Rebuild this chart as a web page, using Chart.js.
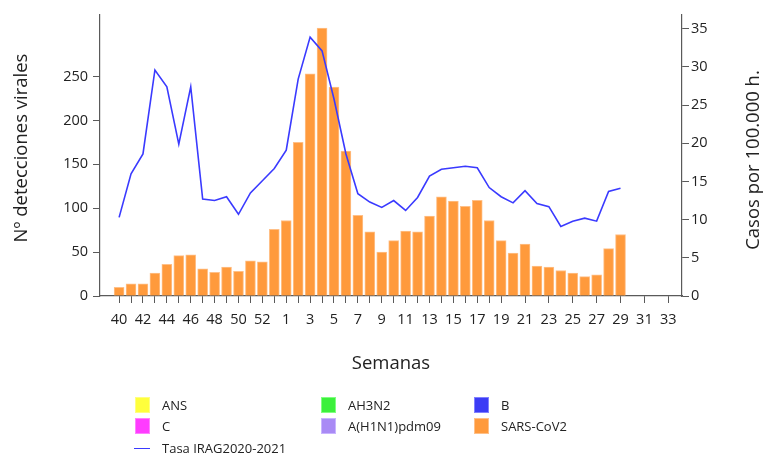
<!DOCTYPE html>
<html>
<head>
<meta charset="utf-8">
<script src="https://cdn.jsdelivr.net/npm/chart.js@4/dist/chart.umd.min.js"></script>
<style>
  html, body { margin: 0; padding: 0; background: #ffffff; }
  #wrap { position: relative; width: 766px; height: 455px; overflow: hidden; font-family: "Open Sans", sans-serif; }
  #c { position: absolute; left: 0; top: 0; }
  .lg { position: absolute; font-size: 13px; color: #222; line-height: 16px; white-space: nowrap; }
  .bx { position: absolute; width: 15px; height: 16px; box-sizing: border-box; }
  .ln { position: absolute; width: 16px; height: 0; border-top: 1.5px solid #3a3aff; }
</style>
</head>
<body>
<div id="wrap">
  <canvas id="c" width="766" height="455"></canvas>
  <div class="bx" style="left:135px;top:397px;background:#ffff3c;border:1px solid #ffff80"></div>
  <div class="lg" style="left:162px;top:397px">ANS</div>
  <div class="bx" style="left:321px;top:397px;background:#3cf03c;border:1px solid #80ff80"></div>
  <div class="lg" style="left:348px;top:397px">AH3N2</div>
  <div class="bx" style="left:474px;top:397px;background:#3c3cf5;border:1px solid #8080ff"></div>
  <div class="lg" style="left:501px;top:397px">B</div>
  <div class="bx" style="left:135px;top:418px;background:#ff3cff;border:1px solid #ff80ff"></div>
  <div class="lg" style="left:162px;top:418px">C</div>
  <div class="bx" style="left:321px;top:418px;background:#a98af5;border:1px solid #c8b4ff"></div>
  <div class="lg" style="left:348px;top:418px">A(H1N1)pdm09</div>
  <div class="bx" style="left:474px;top:418px;background:#ff9a3c;border:1px solid #ffc088"></div>
  <div class="lg" style="left:501px;top:418px">SARS-CoV2</div>
  <div class="ln" style="left:134px;top:448px"></div>
  <div class="lg" style="left:162px;top:440px">Tasa IRAG2020-2021</div>
</div>
<script>
// ---- data ----
const weeks = ['40','41','42','43','44','45','46','47','48','49','50','51','52','53',
  '1','2','3','4','5','6','7','8','9','10','11','12','13','14','15','16','17','18','19','20',
  '21','22','23','24','25','26','27','28','29','30','31','32','33'];

const sarsCov2 = [10,14,14,26,36,46,47,31,27,33,28,40,39,76,86,175,253,305,238,165,
  92,73,50,63,74,73,91,113,108,102,109,86,63,49,59,34,33,29,26,22,24,54,70,null,null,null,null];

const ans   = [0,0,0,0,0,0,0,0,0,0,0,0,0,0,0,0,0,0,0,0,0,0,0,0,0,0,0,0,0,0,0,0,0,0,0,0,0,0,0,0,0,0,0,null,null,null,null];
const ah3n2 = [0,0,0,0,0,0,0,0,0,0,0,0,0,0,0,0,0,0,0,0,0,0,0,0,0,0,0,0,0,0,0,0,0,0,0,0,0,0,0,0,0,0,0,null,null,null,null];
const fluB  = [0,0,0,0,0,0,0,0,0,0,0,0,0,0,0,0,0,0,0,0,0,0,0,0,0,0,0,0,0,0,0,0,0,0,0,0,0,0,0,0,0,0,0,null,null,null,null];
const fluC  = [0,0,0,0,0,0,0,0,0,0,0,0,0,0,0,0,0,0,0,0,0,0,0,0,0,0,0,0,0,0,0,0,0,0,0,0,0,0,0,0,0,0,0,null,null,null,null];
const h1n1  = [0,0,0,0,0,0,0,0,0,0,0,0,0,0,0,0,0,0,0,0,0,0,0,0,0,0,0,0,0,0,0,0,0,0,0,0,0,0,0,0,0,0,0,null,null,null,null];

const tasaIRAG = [10.3,16.0,18.6,29.6,27.4,19.9,27.4,12.7,12.5,13.0,10.7,13.5,15.1,16.7,19.1,28.4,33.9,32.1,25.8,18.6,
  13.4,12.3,11.6,12.5,11.2,12.9,15.7,16.6,16.8,17.0,16.8,14.2,13.0,12.2,13.8,12.1,11.7,9.1,9.8,10.2,9.8,13.7,14.1,null,null,null,null];

const leftTicks = [0,50,100,150,200,250];
const rightTicks = [0,5,10,15,20,25,30,35];

// ---- chart ----
const FONT = '"Open Sans", sans-serif';
const pts = arr => arr.map((v, i) => ({ x: i, y: v }));
const axisColor = '#5a5a5a';
const textColor = '#222222';

function zeroBar(label, data, color) {
  return { type: 'bar', label, data: pts(data), backgroundColor: color, borderWidth: 0,
           inflateAmount: 0, yAxisID: 'y', barThickness: 10, order: 2 };
}

const titlesPlugin = {
  id: 'titles',
  afterDraw(chart) {
    const ctx = chart.ctx;
    ctx.save();
    ctx.fillStyle = textColor;
    ctx.font = '18.5px ' + FONT;
    ctx.textAlign = 'center';
    ctx.textBaseline = 'alphabetic';
    ctx.save(); ctx.translate(27, 148); ctx.rotate(-Math.PI / 2);
    ctx.fillText('Nº detecciones virales', 0, 0); ctx.restore();
    ctx.save(); ctx.translate(759, 160); ctx.rotate(-Math.PI / 2);
    ctx.fillText('Casos por 100.000 h.', 0, 0); ctx.restore();
    ctx.fillText('Semanas', 391, 369);
    ctx.restore();
  }
};

new Chart(document.getElementById('c'), {
  data: {
    datasets: [
      { type: 'line', label: 'Tasa IRAG2020-2021', data: pts(tasaIRAG), yAxisID: 'y2',
        borderColor: '#3a3aff', borderWidth: 1.6, pointRadius: 0, tension: 0, fill: false, order: 0 },
      zeroBar('ANS', ans, '#ffff3c'),
      zeroBar('AH3N2', ah3n2, '#3cf03c'),
      zeroBar('B', fluB, '#3c3cf5'),
      zeroBar('C', fluC, '#ff3cff'),
      zeroBar('A(H1N1)pdm09', h1n1, '#a98af5'),
      { type: 'bar', label: 'SARS-CoV2', data: pts(sarsCov2), yAxisID: 'y',
        backgroundColor: '#ff9a3c', borderColor: '#ffc088', borderWidth: 1, borderSkipped: 'bottom',
        barThickness: 10, order: 1 }
    ]
  },
  options: {
    responsive: false,
    animation: false,
    devicePixelRatio: 1,
    layout: { padding: { left: 0, right: 0, top: 15, bottom: 0 } },
    plugins: { legend: { display: false }, tooltip: { enabled: false }, title: { display: false } },
    scales: {
      x: {
        type: 'linear', min: -1.6, max: 47.15, stacked: true, offset: false,
        afterBuildTicks: s => { s.ticks = weeks.map((w, i) => ({ value: i })); },
        afterFit: s => { s.height = 159; },
        ticks: { autoSkip: false, maxRotation: 0, minRotation: 0, padding: 8, color: textColor,
                 font: { family: FONT, size: 14.5 },
                 callback: v => (v % 2 === 0 ? weeks[v] : '') },
        grid: { offset: false, drawOnChartArea: false, drawTicks: true, tickLength: 7, lineWidth: 1,
                color: c => (c.tick && c.tick.value > 32 && c.tick.value % 2 === 1) ? 'rgba(0,0,0,0)' : axisColor },
        border: { display: true, color: axisColor, width: 1.2 }
      },
      y: {
        position: 'left', min: 0, max: 320, stacked: true,
        afterBuildTicks: s => { s.ticks = leftTicks.map(v => ({ value: v })); },
        afterFit: s => { s.width = 100; },
        ticks: { padding: 5, color: textColor, font: { family: FONT, size: 14.5 } },
        grid: { drawOnChartArea: false, drawTicks: true, tickLength: 7, color: axisColor },
        border: { display: true, color: axisColor, width: 1.2 }
      },
      y2: {
        position: 'right', min: 0, max: 36.8,
        afterBuildTicks: s => { s.ticks = rightTicks.map(v => ({ value: v })); },
        afterFit: s => { s.width = 84; },
        ticks: { padding: 2, color: textColor, font: { family: FONT, size: 14.5 } },
        grid: { drawOnChartArea: false, drawTicks: true, tickLength: 7, color: axisColor },
        border: { display: true, color: axisColor, width: 1.2 }
      }
    }
  },
  plugins: [titlesPlugin]
});
</script>
</body>
</html>
